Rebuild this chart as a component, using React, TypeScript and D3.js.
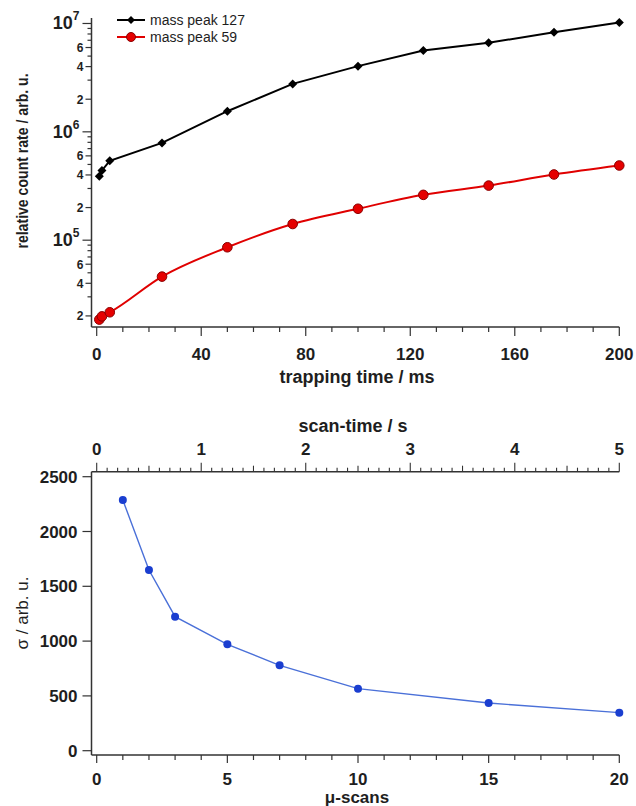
import * as d3 from "d3";

// top panel: trapping time (ms) vs relative count rate
const trapTimes = [1, 2, 5, 25, 50, 75, 100, 125, 150, 175, 200];
const peak127 = [3.9e5, 4.4e5, 5.4e5, 7.9e5, 1.55e6, 2.77e6, 4.04e6, 5.64e6, 6.64e6, 8.3e6, 1.02e7];
const peak59 = [1.85e4, 1.98e4, 2.16e4, 4.61e4, 8.6e4, 1.41e5, 1.95e5, 2.62e5, 3.19e5, 4.04e5, 4.89e5];
const trapTicks = [0, 40, 80, 120, 160, 200];

// bottom panel: number of micro scans vs sigma
const microScans = [1, 2, 3, 5, 7, 10, 15, 20];
const sigma = [2287, 1649, 1223, 971, 779, 566, 435, 347];
const scanTicks = [0, 5, 10, 15, 20];
const sigmaTicks = [0, 500, 1000, 1500, 2000, 2500];
const scanTimeTicks = [0, 1, 2, 3, 4, 5];

const FONT = "'Liberation Sans', Arial, sans-serif";
const INK = "#1e1e1e";

function TopPanel() {
  const x = d3.scaleLinear().domain([0, 200]).range([96.7, 619.3]);
  const y = d3.scaleLog().domain([1.58e4, 1.1e7]).range([327, 19]);
  const x0 = 91.5;
  const yBase = 327;

  const line = d3.line<[number, number]>().x((d) => x(d[0])).y((d) => y(d[1]));
  const smooth = d3
    .line<[number, number]>()
    .x((d) => x(d[0]))
    .y((d) => y(d[1]))
    .curve(d3.curveMonotoneX);

  const blk = trapTimes.map((t, i) => [t, peak127[i]] as [number, number]);
  const red = trapTimes.map((t, i) => [t, peak59[i]] as [number, number]);

  const logTicks = y.ticks().filter((v) => v >= 1.58e4 && v <= 1.1e7);
  const minorX = d3.range(0, 201, 10);

  const diamond = (cx: number, cy: number, r: number) =>
    `M${cx},${cy - r}L${cx + r},${cy}L${cx},${cy + r}L${cx - r},${cy}Z`;

  return (
    <g fontFamily={FONT}>
      {/* axes */}
      <line x1={x0} x2={x0} y1={18} y2={yBase} stroke="#333" strokeWidth={1.5} />
      <line x1={x0} x2={x(200)} y1={yBase} y2={yBase} stroke="#333" strokeWidth={1.5} />

      {logTicks.map((v) => {
        const exp = Math.round(Math.log10(v));
        const mant = Math.round(v / Math.pow(10, Math.floor(Math.log10(v) + 1e-9)));
        const isMajor = Math.abs(v - Math.pow(10, exp)) < 1e-6 * v;
        const yy = y(v);
        return (
          <g key={v}>
            <line
              x1={x0}
              x2={x0 - (isMajor ? 9 : mant % 2 === 0 && mant <= 6 ? 6 : 4)}
              y1={yy}
              y2={yy}
              stroke="#333"
              strokeWidth={1.2}
            />
            {isMajor ? (
              <text x={x0 - 12} y={yy + 6} textAnchor="end" fontSize={18} fontWeight="bold" fill={INK}>
                10<tspan fontSize={12} dy={-9}>{exp}</tspan>
              </text>
            ) : mant === 2 || mant === 4 || mant === 6 ? (
              <text x={x0 - 8} y={yy + 4.5} textAnchor="end" fontSize={12} fontWeight="bold" fill={INK}>
                {mant}
              </text>
            ) : null}
          </g>
        );
      })}

      {minorX.map((v) => (
        <line
          key={v}
          x1={x(v)}
          x2={x(v)}
          y1={yBase}
          y2={yBase + (v % 40 === 0 ? 9 : 5)}
          stroke="#333"
          strokeWidth={1.2}
        />
      ))}
      {trapTicks.map((v) => (
        <text key={v} x={x(v)} y={360} textAnchor="middle" fontSize={17} fontWeight="bold" fill={INK}>
          {v}
        </text>
      ))}
      <text x={357} y={383} textAnchor="middle" fontSize={18} fontWeight="bold" fill={INK}>
        trapping time / ms
      </text>
      <text
        transform={`translate(28,161) rotate(-90) scale(0.88,1)`}
        textAnchor="middle"
        fontSize={16}
        fontWeight="bold"
        fill={INK}
      >
        relative count rate / arb. u.
      </text>

      {/* series */}
      <path d={line(blk) ?? ""} fill="none" stroke="#000" strokeWidth={2} />
      {blk.map((d, i) => (
        <path key={i} d={diamond(x(d[0]), y(d[1]), 4.5)} fill="#000" />
      ))}
      <path d={smooth(red) ?? ""} fill="none" stroke="#e00000" strokeWidth={2} />
      {red.map((d, i) => (
        <circle key={i} cx={x(d[0])} cy={y(d[1])} r={4.8} fill="#e50000" stroke="#8a0000" strokeWidth={1} />
      ))}

      {/* legend */}
      <line x1={117} x2={145} y1={20} y2={20} stroke="#000" strokeWidth={2} />
      <path d={diamond(131, 20, 4)} fill="#000" />
      <text x={150} y={25} fontSize={14} fill={INK}>mass peak 127</text>
      <line x1={117} x2={145} y1={37} y2={37} stroke="#e00000" strokeWidth={2} />
      <circle cx={131} cy={37} r={4.5} fill="#e50000" stroke="#8a0000" strokeWidth={1} />
      <text x={150} y={42} fontSize={14} fill={INK}>mass peak 59</text>
    </g>
  );
}

function BottomPanel() {
  const x = d3.scaleLinear().domain([0, 20]).range([96.7, 619.3]);
  const xt = d3.scaleLinear().domain([0, 5]).range([96.7, 619.3]);
  const y = d3.scaleLinear().domain([0, 2500]).range([750.7, 476.7]);
  const x0 = 91.5;
  const yTop = 471.7;
  const yBase = 755;

  const line = d3
    .line<[number, number]>()
    .x((d) => x(d[0]))
    .y((d) => y(d[1]));
  const pts = microScans.map((m, i) => [m, sigma[i]] as [number, number]);

  const minorTop = d3.range(0, 51).map((i) => i / 10);

  return (
    <g fontFamily={FONT}>
      <line x1={x0} x2={x0} y1={yTop} y2={yBase} stroke="#333" strokeWidth={1.5} />
      <line x1={x0} x2={x(20)} y1={yTop} y2={yTop} stroke="#333" strokeWidth={1.5} />
      <line x1={x0} x2={x(20)} y1={yBase} y2={yBase} stroke="#333" strokeWidth={1.5} />

      {sigmaTicks.map((v) => (
        <g key={v}>
          <line x1={x0} x2={x0 - 9} y1={y(v)} y2={y(v)} stroke="#333" strokeWidth={1.2} />
          <text x={x0 - 14} y={y(v) + 6} textAnchor="end" fontSize={17} fontWeight="bold" fill={INK}>
            {v}
          </text>
        </g>
      ))}

      {d3.range(0, 21).map((v) => (
        <line
          key={v}
          x1={x(v)}
          x2={x(v)}
          y1={yBase}
          y2={yBase + (v % 5 === 0 ? 8 : 5)}
          stroke="#333"
          strokeWidth={1.2}
        />
      ))}
      {scanTicks.map((v) => (
        <text key={v} x={x(v)} y={785} textAnchor="middle" fontSize={17} fontWeight="bold" fill={INK}>
          {v}
        </text>
      ))}
      <text x={357} y={803} textAnchor="middle" fontSize={17} fontWeight="bold" fill={INK}>
        μ-scans
      </text>

      {minorTop.map((v, i) => (
        <line
          key={i}
          x1={xt(v)}
          x2={xt(v)}
          y1={yTop}
          y2={yTop - (i % 10 === 0 ? 9 : i % 5 === 0 ? 6 : 4)}
          stroke="#333"
          strokeWidth={1.1}
        />
      ))}
      {scanTimeTicks.map((v) => (
        <text key={v} x={xt(v)} y={455} textAnchor="middle" fontSize={17} fontWeight="bold" fill={INK}>
          {v}
        </text>
      ))}
      <text x={353} y={432} textAnchor="middle" fontSize={18} fontWeight="bold" fill={INK}>
        scan-time / s
      </text>
      <text
        transform={`translate(28,613) rotate(-90)`}
        textAnchor="middle"
        fontSize={17}
        fill={INK}
      >
        σ / arb. u.
      </text>

      <path d={line(pts) ?? ""} fill="none" stroke="#4a70d8" strokeWidth={1.4} />
      {pts.map((d, i) => (
        <circle key={i} cx={x(d[0])} cy={y(d[1])} r={4} fill="#1a3ed0" />
      ))}
    </g>
  );
}

export default function App() {
  return (
    <svg
      width={636}
      height={806}
      style={{ position: "absolute", left: 0, top: 0, background: "#fff" }}
    >
      <TopPanel />
      <BottomPanel />
    </svg>
  );
}
